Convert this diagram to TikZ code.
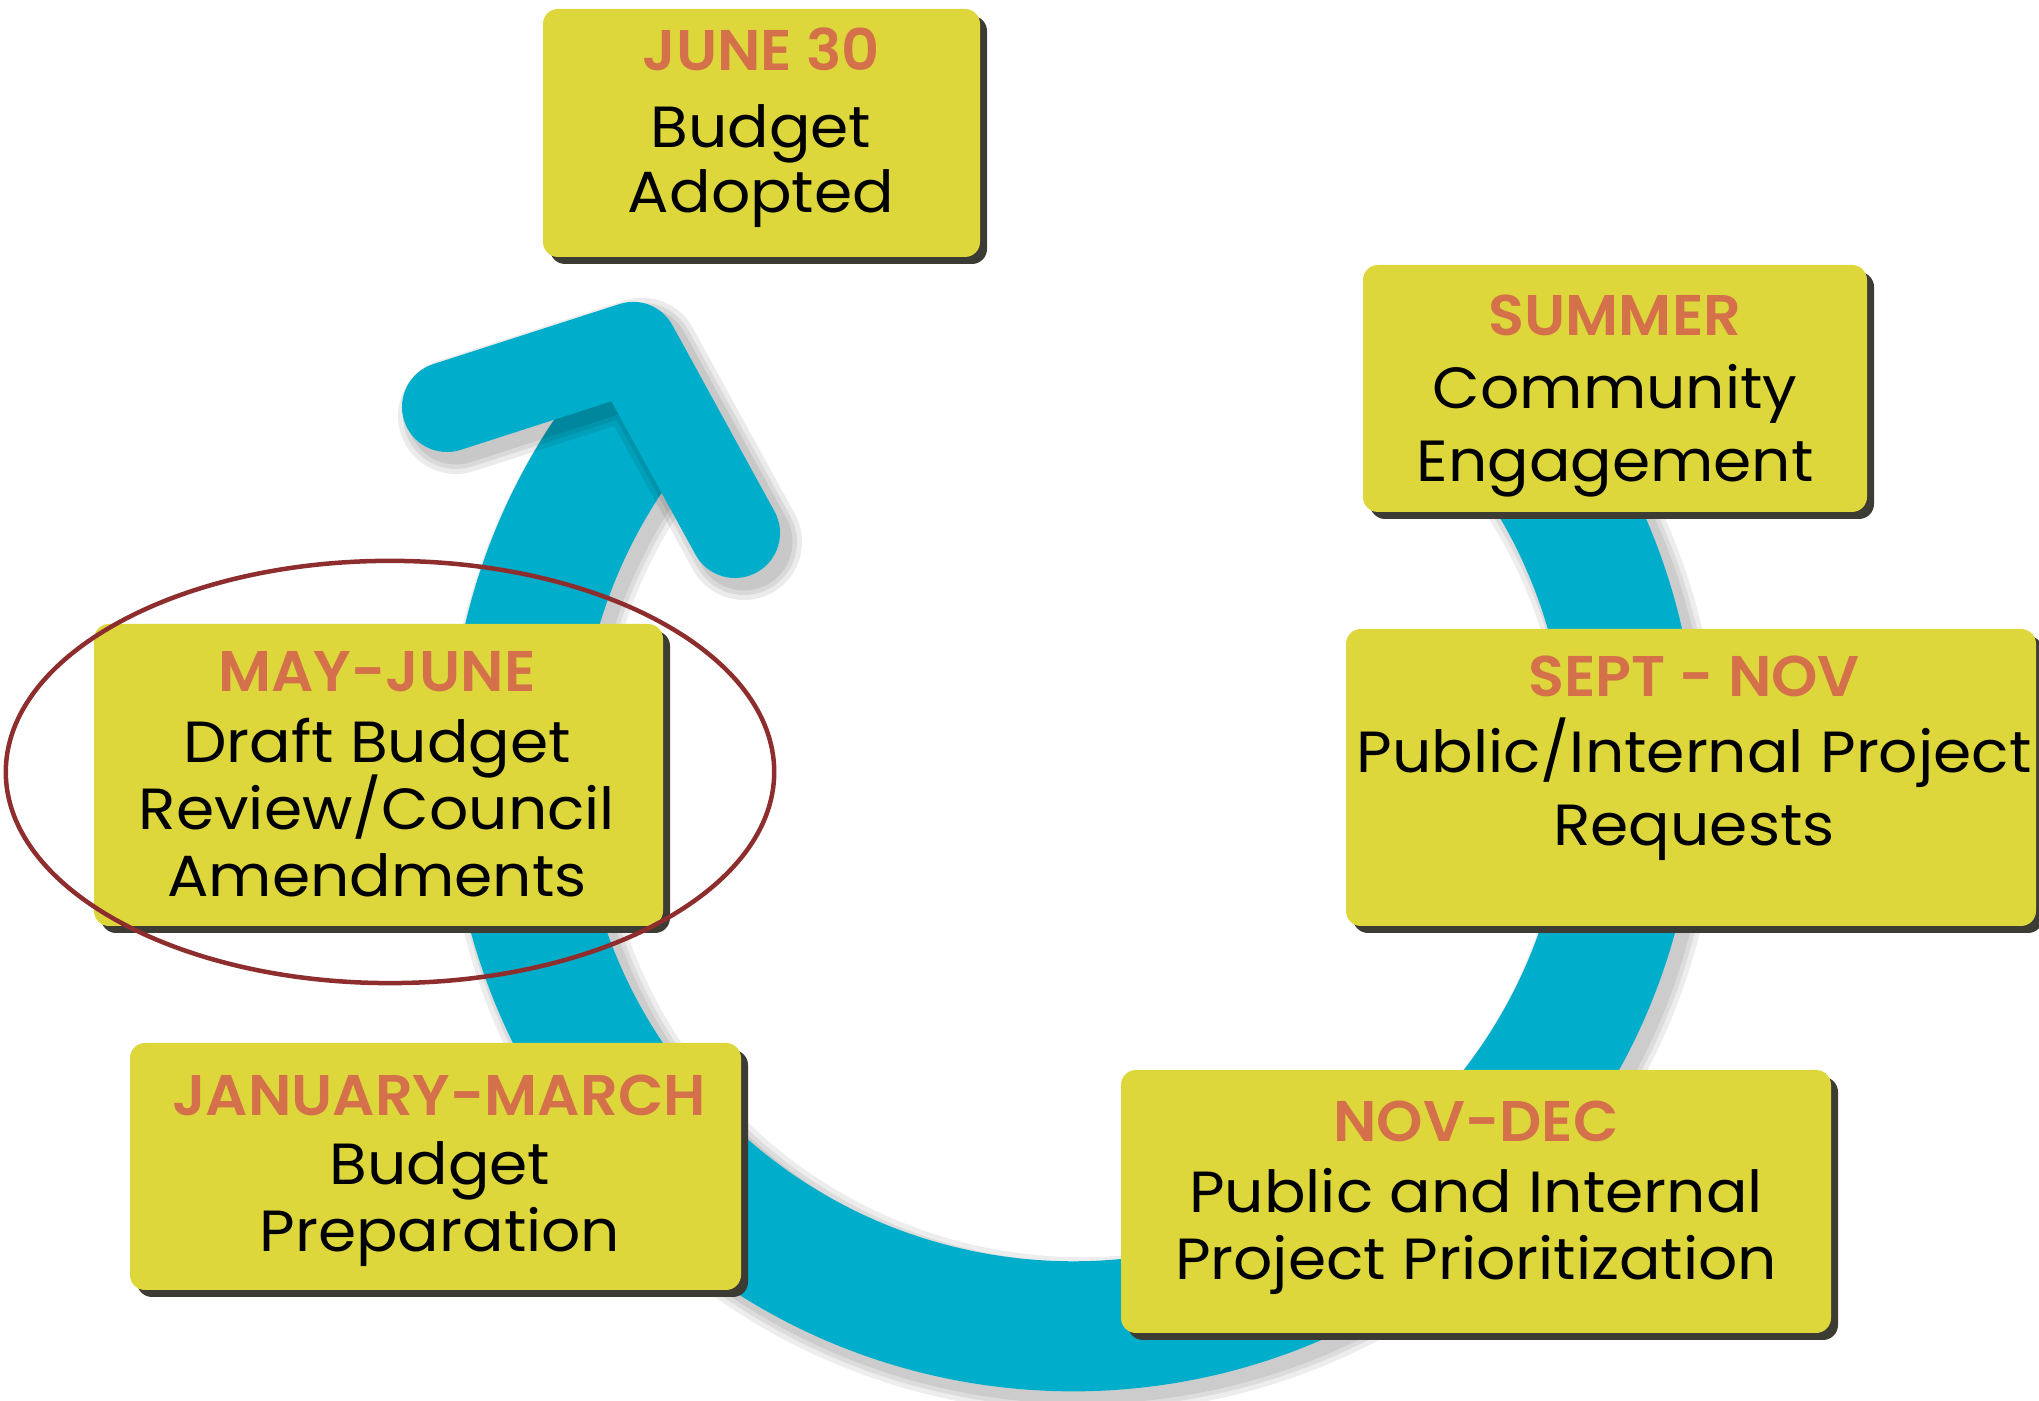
\documentclass[tikz,border=0pt]{standalone}
\usepackage{fontspec}
\setmainfont{Poppins}[FakeStretch=1.06]
\newfontfamily\hfont{Poppins SemiBold}[FakeStretch=1.03]
\usetikzlibrary{shadows,shapes.geometric}
\definecolor{tealc}{HTML}{00AECB}
\definecolor{boxyel}{HTML}{DDD73C}
\definecolor{headc}{HTML}{D4714B}
\definecolor{ringc}{HTML}{8E2D2D}
\definecolor{boxshadow}{HTML}{3C3C34}
\newcommand\stage[5]{\node[stagebox, minimum width={(#4-#2)*0.01cm}, minimum height={(#5-#3)*0.01cm}] (#1) at (#2,#3) {};}
\begin{document}
\begin{tikzpicture}[x=0.01cm,y=0.01cm,
  stagebox/.style={fill=boxyel, rounded corners=0.15cm, inner sep=0pt, outer sep=0pt, anchor=south west,
    drop shadow={shadow xshift=0.07cm, shadow yshift=-0.07cm, fill=boxshadow, opacity=1}},
  headtxt/.style={font=\hfont\fontsize{16.3}{19}\selectfont, text=headc, inner sep=0pt, anchor=base},
  bodytxt/.style={font=\fontsize{16.5}{19.5}\selectfont, text=black, inner sep=0pt, anchor=base},
  ring/.style={draw=ringc, line width=0.045cm, ellipse, inner sep=0pt}]
\useasboundingbox (0,0) rectangle (2039,1401);
% teal arc shadow
\begin{scope}[shift={(9,-9)}]
\foreach \w in {1.56, 1.46, 1.37}{
  \draw[black, draw opacity=0.07, line width=\w cm] (1073,634) ++(40:5.59cm) arc[start angle=40, end angle=-214, radius=5.59cm] -- ++(55.99:0.6cm);
}
\end{scope}
% teal arc
\draw[tealc, line width=1.3cm] (1073,634) ++(40:5.59cm) arc[start angle=40, end angle=-214, radius=5.59cm] -- ++(55.99:0.6cm);
% chevron shadow
\begin{scope}[shift={(9,-9)}]
\foreach \w in {1.16, 1.06, 0.97}{
  \draw[black, draw opacity=0.08, line width=\w cm, line cap=round, line join=round] (447,994) -- (633,1054) -- (735,868);
}
\end{scope}
% chevron
\draw[tealc, line width=0.9cm, line cap=round, line join=round] (447,994) -- (633,1054) -- (735,868);
% boxes
\stage{junebox}{543}{1144}{980}{1392}
\stage{summerbox}{1363}{889}{1867}{1136}
\stage{septbox}{1346}{475}{2036}{772}
\stage{novbox}{1121}{68}{1831}{331}
\stage{janbox}{130}{111}{741}{358}
\stage{maybox}{94}{475}{663}{777}
% texts
\node[headtxt] (juneh) at (761,1330) {JUNE 30};
\node[bodytxt] (junea) at (761,1253) {Budget};
\node[bodytxt] (juneb) at (761,1188) {Adopted};
\node[headtxt] (summerh) at (1615,1065) {SUMMER};
\node[bodytxt] (summera) at (1615,992) {Community};
\node[bodytxt] (summerb) at (1615,919) {Engagement};
\node[headtxt] (septh) at (1694,704) {SEPT - NOV};
\node[bodytxt] (septa) at (1694,628) {Public/Internal Project};
\node[bodytxt] (septb) at (1694,555) {Requests};
\node[headtxt] (novh) at (1476,259) {NOV-DEC};
\node[bodytxt] (nova) at (1476,188) {Public and Internal};
\node[bodytxt] (novb) at (1476,121) {Project Prioritization};
\node[headtxt] (janh) at (439,285) {JANUARY-MARCH};
\node[bodytxt] (jana) at (440,216) {Budget};
\node[bodytxt] (janb) at (440,149) {Preparation};
\node[headtxt] (mayh) at (377,709) {MAY-JUNE};
\node[bodytxt] (maya) at (377,638) {Draft Budget};
\node[bodytxt] (mayb) at (377,571) {Review/Council};
\node[bodytxt] (mayc) at (377,504) {Amendments};
% highlight ring
\node[ring, minimum width=7.68cm, minimum height=4.22cm] (highlight) at (390,629) {};
\end{tikzpicture}
\end{document}
